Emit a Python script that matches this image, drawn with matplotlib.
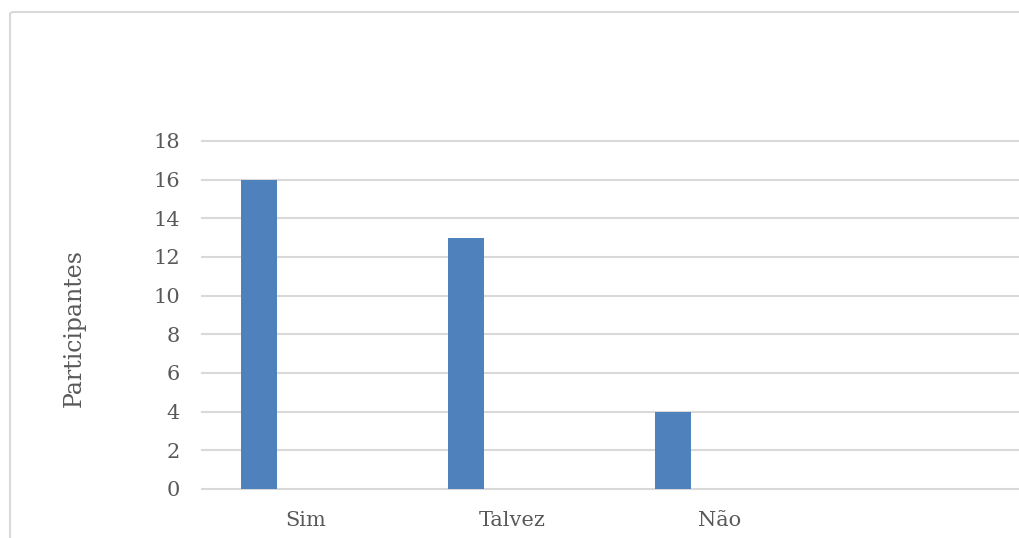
import numpy as np
import matplotlib.pyplot as plt
from matplotlib.patches import FancyBboxPatch

categories = ["Sim", "Talvez", "Não", ""]
participantes = [16, 13, 4, 0]
yticks = [0, 2, 4, 6, 8, 10, 12, 14, 16, 18]

plt.rcParams['font.family'] = ['DejaVu Serif']
gray = "#595959"

fig = plt.figure(figsize=(10.2, 5.38), dpi=100)

# chart frame (cropped at right and bottom)
frame = FancyBboxPatch((10 / 1020, -0.05), 1.2, 0.9777 + 0.05,
                       boxstyle="round,pad=0,rounding_size=0.004",
                       transform=fig.transFigure, facecolor="none",
                       edgecolor="#d9d9d9", linewidth=1.5, zorder=-1)
fig.patches.append(frame)

ax = fig.add_axes([202 / 1020, 49 / 538, 828 / 1020, 348 / 538])
ax.set_facecolor("none")
ax.set_zorder(2)

x = np.arange(len(categories))
ax.bar(x - 0.225, participantes, width=0.174, color="#4f81bd", zorder=3)

ax.set_xlim(-0.5, len(categories) - 0.5)
ax.set_ylim(0, 18)
ax.set_yticks(yticks)
ax.set_xticks(x)
ax.set_xticklabels(categories)
ax.yaxis.grid(True, color="#d9d9d9", linewidth=1.5, zorder=0)
for gl in ax.get_ygridlines():
    gl.set_clip_on(False)
for s in ax.spines.values():
    s.set_visible(False)
ax.tick_params(axis="both", length=0, colors=gray, labelsize=15)
ax.tick_params(axis="y", pad=16)
ax.tick_params(axis="x", pad=16)
ax.set_ylabel("Participantes", color=gray, fontsize=17)
ax.yaxis.set_label_coords(-0.140, 0.463)

fig.savefig("out.png", dpi=100)
